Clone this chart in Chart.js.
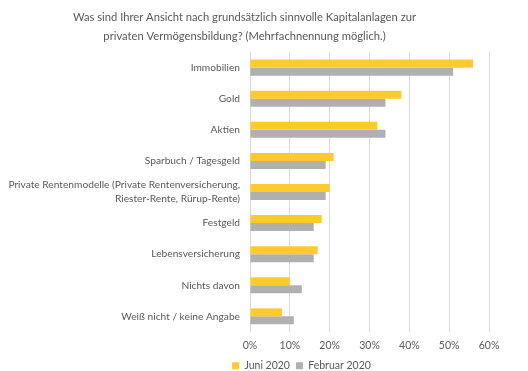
<!DOCTYPE html>
<html>
<head>
<meta charset="utf-8">
<script src="https://cdn.jsdelivr.net/npm/chart.js@4/dist/chart.umd.min.js"></script>
<style>
  html, body { margin: 0; padding: 0; background: #fff; }
  #wrap { width: 528px; height: 371px; position: relative; }
</style>
</head>
<body>
<div id="wrap"><canvas id="chart"></canvas></div>
<script>
// Daten aus der Grafik (Prozent)
const categories = [
    'Immobilien',
    'Gold',
    'Aktien',
    'Sparbuch / Tagesgeld',
    ['Private Rentenmodelle (Private Rentenversicherung,', 'Riester-Rente, Rürup-Rente)'],
    'Festgeld',
    'Lebensversicherung',
    'Nichts davon',
    'Weiß nicht / keine Angabe'
];
const juni2020 = [56, 38, 32, 21, 20, 18, 17, 10, 8];
const februar2020 = [51, 34, 34, 19, 19, 16, 16, 13, 11];
const tickValues = [0, 10, 20, 30, 40, 50, 60];

const textColor = '#595959';
const fontFamily = 'Lato, "Open Sans", sans-serif';

// Legende etwas nach rechts schieben (wie im Original)
const legendShift = {
    id: 'legendShift',
    afterLayout: (chart) => {
        const l = chart.legend;
        if (l) { l.left += 57; l.right += 57; }
    }
};

new Chart(document.getElementById('chart'), {
    type: 'bar',
    data: {
        labels: categories,
        datasets: [
            {
                label: 'Juni 2020',
                data: juni2020,
                backgroundColor: '#ffca2c',
                categoryPercentage: 0.515,
                barPercentage: 1
            },
            {
                label: 'Februar 2020',
                data: februar2020,
                backgroundColor: '#b0b0b0',
                categoryPercentage: 0.515,
                barPercentage: 1
            }
        ]
    },
    plugins: [legendShift],
    options: {
        indexAxis: 'y',
        responsive: true,
        maintainAspectRatio: false,
        animation: false,
        layout: { padding: { top: 6, right: 39, bottom: -10, left: 0 } },
        scales: {
            x: {
                min: 0,
                max: 60,
                afterBuildTicks: (scale) => { scale.ticks = tickValues.map(v => ({ value: v })); },
                afterFit: (scale) => { scale.height -= 4; },
                ticks: {
                    callback: (v) => v + '%',
                    color: textColor,
                    font: { family: fontFamily, size: 10.5 },
                    padding: 7
                },
                grid: { color: '#d9d9d9', drawTicks: false },
                border: { display: false }
            },
            y: {
                afterFit: (scale) => { scale.width = 250; },
                ticks: {
                    color: textColor,
                    font: { family: fontFamily, size: 10.2, lineHeight: 1.35 },
                    padding: 10,
                    autoSkip: false
                },
                grid: { display: false, drawTicks: false },
                border: { display: true, color: '#d9d9d9' }
            }
        },
        plugins: {
            title: {
                display: true,
                text: ['Was sind Ihrer Ansicht nach grundsätzlich sinnvolle Kapitalanlagen zur', 'privaten Vermögensbildung? (Mehrfachnennung möglich.)'],
                color: textColor,
                font: { family: fontFamily, size: 11.2, weight: 'normal', lineHeight: 1.7 },
                padding: { top: 2, bottom: 6 }
            },
            legend: {
                position: 'bottom',
                labels: {
                    color: textColor,
                    font: { family: fontFamily, size: 10.5 },
                    boxWidth: 7,
                    boxHeight: 7,
                    padding: 6
                }
            },
            tooltip: { enabled: false }
        }
    }
});
</script>
</body>
</html>
